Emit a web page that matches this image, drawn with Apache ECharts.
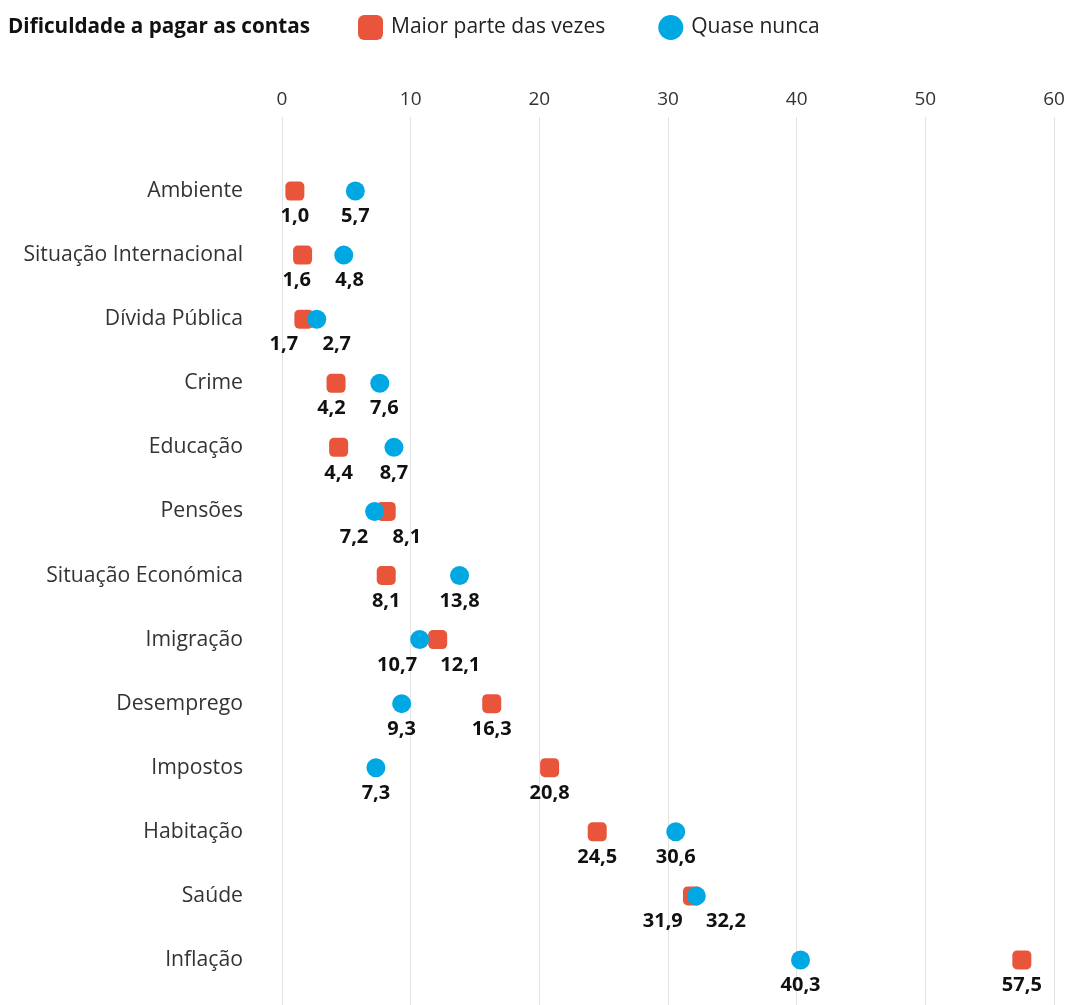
<!DOCTYPE html>
<html><head><meta charset="utf-8">
<script src="https://cdn.jsdelivr.net/npm/echarts@6/dist/echarts.min.js"></script>
<style>html,body{margin:0;padding:0;background:#fff}#c{width:1069px;height:1005px}</style>
</head><body><div id="c"></div>
<script>
var categories = ['Ambiente','Situação Internacional','Dívida Pública','Crime','Educação','Pensões','Situação Económica','Imigração','Desemprego','Impostos','Habitação','Saúde','Inflação'];
var maiorParte = [1.0,1.6,1.7,4.2,4.4,8.1,8.1,12.1,16.3,20.8,24.5,31.9,57.5];
var quaseNunca = [5.7,4.8,2.7,7.6,8.7,7.2,13.8,10.7,9.3,7.3,30.6,32.2,40.3];
var xTicks = [0,10,20,30,40,50,60];

var RED = '#E9553B', BLUE = '#00A8E3';
var LEFT = 282, RIGHT = 15, W = 1069;
var pxPerUnit = (W - LEFT - RIGHT) / 60;
function fmt(v){ return v.toFixed(1).replace('.', ','); }
function lw(v){ return fmt(v).length * 10.3; }

function offsets(a, b){
  var d = Math.abs(a - b) * pxPerUnit;
  var sep = (lw(a) + lw(b)) / 2 + 22;
  if (d >= sep) return [0, 0];
  var s = (sep - d) / 2;
  return a <= b ? [-s, s] : [s, -s];
}
var redData = [], blueData = [];
categories.forEach(function(c, i){
  var o = offsets(maiorParte[i], quaseNunca[i]);
  redData.push({value:[maiorParte[i], c], label:{offset:[o[0],0]}});
  blueData.push({value:[quaseNunca[i], c], label:{offset:[o[1],0]}});
});

var FONT = '"Open Sans", "Noto Sans", sans-serif';
var labelCfg = {show:true, position:'bottom', distance:6, color:'#111', opacity:1, fontWeight:'bold', fontSize:20, fontFamily:FONT,
  formatter:function(p){ return fmt(p.value[0]); }};

var chart = echarts.init(document.getElementById('c'));
chart.setOption({
  animation:false,
  textStyle:{fontFamily:FONT},
  graphic:[{type:'text', left:8, top:17, style:{text:'Dificuldade a pagar as contas', font:'bold 20.7px ' + FONT, fill:'#111'}}],
  legend:{left:353, top:10, itemWidth:25, itemHeight:25, itemGap:53,
    textStyle:{fontSize:21, color:'#222', fontFamily:FONT, padding:[0,0,0,3]},
    data:[{name:'Maior parte das vezes', icon:'roundRect', itemStyle:{color:RED, opacity:1}},{name:'Quase nunca', icon:'circle', itemStyle:{color:BLUE, opacity:1}}]},
  grid:[
    {left:LEFT, right:RIGHT, top:117, bottom:0},
    {left:LEFT, right:RIGHT, top:159, bottom:13}
  ],
  xAxis:[
    {gridIndex:0, type:'value', position:'top', min:0, max:60, interval:10,
     axisLine:{show:false}, axisTick:{show:false},
     axisLabel:{color:'#333', fontSize:19, margin:8, fontFamily:FONT,
       formatter:function(v){ return xTicks.indexOf(v) >= 0 ? String(v) : ''; }},
     splitLine:{show:true, lineStyle:{color:'#e2e2e2', width:1}}},
    {gridIndex:1, type:'value', min:0, max:60, show:false}
  ],
  yAxis:[
    {gridIndex:0, type:'value', show:false},
    {gridIndex:1, type:'category', data:categories, inverse:true,
     axisLine:{show:false}, axisTick:{show:false}, splitLine:{show:false},
     axisLabel:{color:'#333', fontSize:21.2, margin:39, fontFamily:FONT}}
  ],
  series:[
    {name:'Maior parte das vezes', type:'scatter', xAxisIndex:1, yAxisIndex:1,
     symbol:'roundRect', symbolSize:19, itemStyle:{color:RED, opacity:1}, label:labelCfg, data:redData},
    {name:'Quase nunca', type:'scatter', xAxisIndex:1, yAxisIndex:1,
     symbol:'circle', symbolSize:19, itemStyle:{color:BLUE, opacity:1}, label:labelCfg, data:blueData}
  ]
});
</script></body></html>
